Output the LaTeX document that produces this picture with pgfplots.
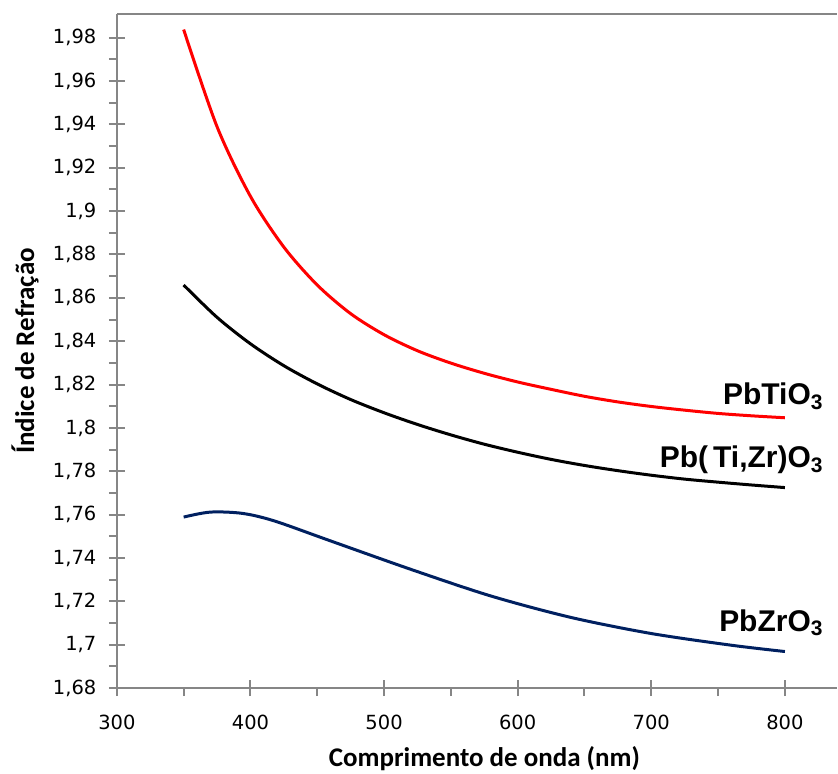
\documentclass[border=0pt]{standalone}
\usepackage{fontspec}
\setmainfont{DejaVu Sans}
\newfontfamily\calibri{Carlito}
\newfontfamily\arialf{Liberation Sans}
\usepackage{pgfplots}
\pgfplotsset{compat=1.18}
\definecolor{axgray}{RGB}{134,134,134}
\definecolor{navy}{RGB}{0,32,96}
\begin{document}
\begin{tikzpicture}
\begin{axis}[
  scale only axis, width=432.6pt, height=405pt,
  xmin=300, xmax=839, ymin=1.68, ymax=1.9909,
  axis x line=bottom, axis y line=left,
  axis line style={-, axgray, line width=1.2pt},
  xtick={300,400,...,800}, minor xtick={350,450,...,750},
  ytick={1.68,1.70,1.72,1.74,1.76,1.78,1.80,1.82,1.84,1.86,1.88,1.90,1.92,1.94,1.96,1.98},
  minor ytick={1.69,1.71,1.73,1.75,1.77,1.79,1.81,1.83,1.85,1.87,1.89,1.91,1.93,1.95,1.97},
  tick align=center, major tick length=9.6pt, minor tick length=4.8pt,
  every tick/.style={axgray, line width=1.2pt},
  minor x tick style={yshift=-2.4pt}, minor y tick style={xshift=-2.4pt},
  tick label style={font=\fontsize{11.7}{14}\selectfont},
  /pgf/number format/.cd, use comma, 1000 sep={}, assume math mode=true, /pgfplots/.cd,
  yticklabel style={anchor=east, xshift=-4pt},
  xticklabel style={anchor=north, yshift=-8pt},
  clip=false,
]
\coordinate (O) at (rel axis cs:0,0);
\draw[axgray, line width=1.2pt] (rel axis cs:0,1) -- (rel axis cs:1,1);
\addplot[red, line width=1.8pt, smooth] coordinates {
(350,1.9837) (375,1.9389) (400,1.9068) (425,1.8834) (450,1.8659) (475,1.8527)
(500,1.8430) (525,1.8356) (550,1.8299) (575,1.8252) (600,1.8212) (625,1.8178)
(650,1.8146) (675,1.8120) (700,1.8099) (725,1.8082) (750,1.8067) (775,1.8056) (800,1.8047)};
\addplot[black, line width=1.8pt, smooth] coordinates {
(350,1.8659) (375,1.8510) (400,1.8388) (425,1.8287) (450,1.8203) (475,1.8131)
(500,1.8070) (525,1.8016) (550,1.7968) (575,1.7925) (600,1.7888) (625,1.7855)
(650,1.7827) (675,1.7803) (700,1.7782) (725,1.7764) (750,1.7750) (775,1.7737) (800,1.7725)};
\addplot[navy, line width=1.8pt, smooth] coordinates {
(350,1.7589) (370,1.7612) (394,1.7606) (418,1.7571) (460,1.7479) (520,1.7348)
(580,1.7225) (640,1.7126) (700,1.7052) (760,1.6998) (800,1.6969)};
\node[anchor=base east, inner sep=0pt, font=\arialf\bfseries\fontsize{18}{20}\selectfont] at (axis cs:829,1.8109) {PbTiO\textsubscript{3}};
\node[anchor=base east, inner sep=0pt, font=\arialf\bfseries\fontsize{18}{20}\selectfont] at (axis cs:829,1.7818) {Pb(\,Ti,Zr)O\textsubscript{3}};
\node[anchor=base east, inner sep=0pt, font=\arialf\bfseries\fontsize{18}{20}\selectfont] at (axis cs:829,1.7063) {PbZrO\textsubscript{3}};
\end{axis}
\path (O) ++(220.8pt,-46.8pt) node[anchor=base, inner sep=0pt, font=\calibri\bfseries\fontsize{16.2}{18}\selectfont] {Comprimento de onda (nm)};
\path (O) ++(-55.2pt,202.5pt) node[rotate=90, anchor=center, inner sep=0pt, font=\calibri\bfseries\fontsize{16.2}{18}\selectfont] {Índice de Refração};
\path[use as bounding box] (O) ++(-70.2pt,-51pt) rectangle ++(502.8pt,464.4pt);
\end{tikzpicture}
\end{document}
